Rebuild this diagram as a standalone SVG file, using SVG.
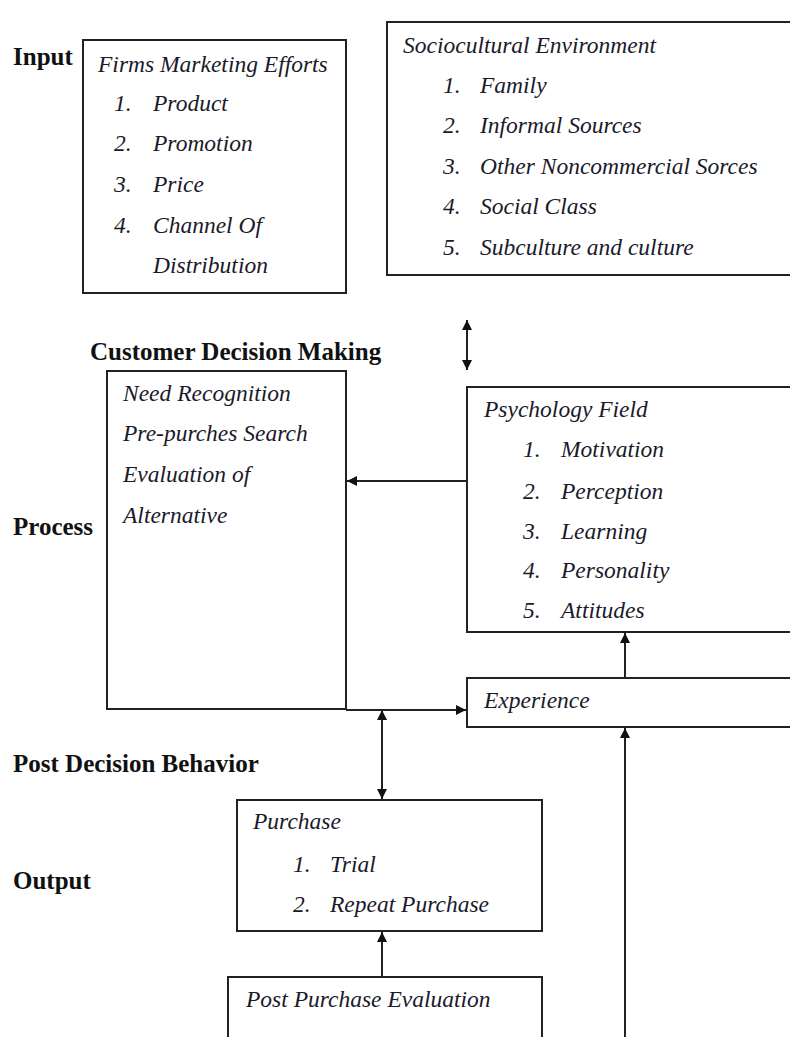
<svg xmlns="http://www.w3.org/2000/svg" width="790" height="1037" viewBox="0 0 790 1037">
<defs>
<style>
.box{fill:#fff;stroke:#222;stroke-width:2}
.lbl{font-family:"Liberation Serif",serif;font-weight:bold;font-size:25px;fill:#111}
.it{font-family:"Liberation Serif",serif;font-style:italic;font-size:23.5px;fill:#1a1a2a}
.con{stroke:#222;stroke-width:2;fill:none}
</style>
<marker id="ah" viewBox="0 0 10 10" refX="10" refY="5" markerWidth="10" markerHeight="11" markerUnits="userSpaceOnUse" orient="auto-start-reverse">
<path d="M0,0 L10,5 L0,10 Z" fill="#111"/>
</marker>
</defs>
<rect width="790" height="1037" fill="#fff"/>

<g id="labels">
<text class="lbl" x="13" y="65">Input</text>
<text class="lbl" x="90" y="360">Customer Decision Making</text>
<text class="lbl" x="13" y="535">Process</text>
<text class="lbl" x="13" y="772">Post Decision Behavior</text>
<text class="lbl" x="13" y="889">Output</text>
</g>

<g id="firms">
<rect class="box" x="83" y="40" width="263" height="253"/>
<text class="it" x="98" y="72">Firms Marketing Efforts</text>
<text class="it" x="114" y="111">1.</text><text class="it" x="153" y="111">Product</text>
<text class="it" x="114" y="151">2.</text><text class="it" x="153" y="151">Promotion</text>
<text class="it" x="114" y="192">3.</text><text class="it" x="153" y="192">Price</text>
<text class="it" x="114" y="233">4.</text><text class="it" x="153" y="233">Channel Of</text>
<text class="it" x="153" y="273">Distribution</text>
</g>

<g id="socio">
<rect class="box" x="387" y="22" width="410" height="253"/>
<text class="it" x="403" y="53">Sociocultural Environment</text>
<text class="it" x="443" y="93">1.</text><text class="it" x="480" y="93">Family</text>
<text class="it" x="443" y="133">2.</text><text class="it" x="480" y="133">Informal Sources</text>
<text class="it" x="443" y="174">3.</text><text class="it" x="480" y="174">Other Noncommercial Sorces</text>
<text class="it" x="443" y="214">4.</text><text class="it" x="480" y="214">Social Class</text>
<text class="it" x="443" y="255">5.</text><text class="it" x="480" y="255">Subculture and culture</text>
</g>

<g id="decision">
<rect class="box" x="107" y="371" width="239" height="338"/>
<text class="it" x="123" y="401">Need Recognition</text>
<text class="it" x="123" y="441">Pre-purches Search</text>
<text class="it" x="123" y="482">Evaluation of</text>
<text class="it" x="123" y="523">Alternative</text>
</g>

<g id="psychology">
<rect class="box" x="467" y="387" width="330" height="245"/>
<text class="it" x="484" y="417">Psychology Field</text>
<text class="it" x="523" y="457">1.</text><text class="it" x="561" y="457">Motivation</text>
<text class="it" x="523" y="499">2.</text><text class="it" x="561" y="499">Perception</text>
<text class="it" x="523" y="539">3.</text><text class="it" x="561" y="539">Learning</text>
<text class="it" x="523" y="578">4.</text><text class="it" x="561" y="578">Personality</text>
<text class="it" x="523" y="618">5.</text><text class="it" x="561" y="618">Attitudes</text>
</g>

<g id="experience">
<rect class="box" x="467" y="678" width="330" height="49"/>
<text class="it" x="484" y="708">Experience</text>
</g>

<g id="purchase">
<rect class="box" x="237" y="800" width="305" height="131"/>
<text class="it" x="253" y="829">Purchase</text>
<text class="it" x="293" y="872">1.</text><text class="it" x="330" y="872">Trial</text>
<text class="it" x="293" y="912">2.</text><text class="it" x="330" y="912">Repeat Purchase</text>
</g>

<g id="postpurchase">
<rect class="box" x="228" y="977" width="314" height="100"/>
<text class="it" x="246" y="1007">Post Purchase Evaluation</text>
</g>

<g id="connectors">
<line class="con" x1="467" y1="320" x2="467" y2="370" marker-start="url(#ah)" marker-end="url(#ah)"/>
<line class="con" x1="467" y1="481" x2="347" y2="481" marker-end="url(#ah)"/>
<line class="con" x1="346" y1="710" x2="466" y2="710" marker-end="url(#ah)"/>
<line class="con" x1="382" y1="710" x2="382" y2="799" marker-start="url(#ah)" marker-end="url(#ah)"/>
<line class="con" x1="625" y1="678" x2="625" y2="633" marker-end="url(#ah)"/>
<line class="con" x1="625" y1="1040" x2="625" y2="728" marker-end="url(#ah)"/>
<line class="con" x1="382" y1="977" x2="382" y2="932" marker-end="url(#ah)"/>
</g>
</svg>
